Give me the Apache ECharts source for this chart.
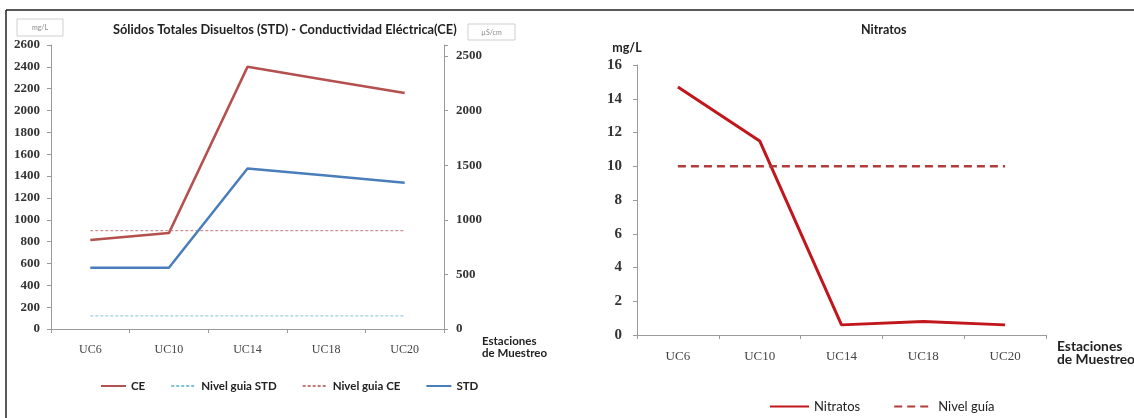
<!DOCTYPE html>
<html>
<head>
<meta charset="utf-8">
<script src="https://cdn.jsdelivr.net/npm/echarts@6/dist/echarts.min.js"></script>
<style>
html,body{margin:0;padding:0;background:#fff;}
#main{width:1134px;height:418px;}
</style>
</head>
<body>
<div id="main"></div>
<script>
// ---- data ----
const categories = ['UC6', 'UC10', 'UC14', 'UC18', 'UC20'];
const ceValues = [815, 878, 2400, 2280, 2160];
const stdValues = [560, 560, 1470, 1405, 1340];
const nivelGuiaStd = [120, 120, 120, 120, 120];
const nivelGuiaCe = [900, 900, 900, 900, 900];
const nitratosValues = [14.7, 11.5, 0.6, 0.8, 0.6];
const nivelGuiaNitratos = [10, 10, 10, 10, 10];
const leftTitle = 'Sólidos Totales Disueltos (STD) - Conductividad Eléctrica(CE)';
const rightTitle = 'Nitratos';
const xName = 'Estaciones\nde Muestreo';

const chart = echarts.init(document.getElementById('main'), null, {renderer: 'canvas'});

const serif = 'Liberation Serif';
const sans = 'Lato';
const axisGray = '#9a9a9a';

const option = {
  backgroundColor: '#fff',
  animation: false,
  title: [
    {text: leftTitle, left: 113, top: 23, padding: 0,
     textStyle: {fontFamily: sans, fontSize: 12.8, fontWeight: 'bold', color: '#222'}},
    {text: rightTitle, left: 861, top: 23, padding: 0,
     textStyle: {fontFamily: sans, fontSize: 12.5, fontWeight: 'bold', color: '#222'}}
  ],
  legend: [
    {left: 95, top: 375, itemWidth: 25, itemHeight: 12, itemGap: 25,
     itemStyle: {opacity: 0},
     data: ['CE', 'Nivel guia STD', 'Nivel guia CE', 'STD'],
     textStyle: {fontFamily: sans, fontSize: 11.5, fontWeight: 'bold', color: '#222'}},
    {left: 764, top: 395, itemWidth: 39, itemHeight: 14, itemGap: 33,
     itemStyle: {opacity: 0},
     data: ['Nitratos', 'Nivel guía'],
     textStyle: {fontFamily: sans, fontSize: 13, color: '#222'}}
  ],
  grid: [
    {left: 51, right: 690, top: 45, bottom: 89, outerBoundsMode: 'none', containLabel: false},
    {left: 637, right: 88, top: 65, bottom: 83, outerBoundsMode: 'none', containLabel: false}
  ],
  xAxis: [
    {type: 'category', gridIndex: 0, data: categories, boundaryGap: true,
     axisLine: {lineStyle: {color: axisGray}},
     axisTick: {show: true, length: 4, lineStyle: {color: axisGray}},
     axisLabel: {fontFamily: serif, fontSize: 12, color: '#444', margin: 15},
     name: xName, nameLocation: 'end', nameGap: 38,
     nameTextStyle: {fontFamily: sans, fontSize: 11.5, fontWeight: 'bold', color: '#222',
                     align: 'left', verticalAlign: 'top', lineHeight: 12, padding: [6, 0, 0, 0]}},
    {type: 'category', gridIndex: 1, data: categories, boundaryGap: true,
     axisLine: {lineStyle: {color: axisGray}},
     axisTick: {show: true, length: 4, lineStyle: {color: axisGray}},
     axisLabel: {fontFamily: serif, fontSize: 13, color: '#444', margin: 15},
     name: xName, nameLocation: 'end', nameGap: 11,
     nameTextStyle: {fontFamily: sans, fontSize: 13.8, fontWeight: 'bold', color: '#222',
                     align: 'left', verticalAlign: 'top', lineHeight: 13, padding: [5, 0, 0, 0]}}
  ],
  yAxis: [
    {type: 'value', gridIndex: 0, min: 0, max: 2600, interval: 200, position: 'left',
     splitLine: {show: false},
     axisLine: {show: true, lineStyle: {color: axisGray}},
     axisTick: {show: true, length: 4, lineStyle: {color: axisGray}},
     axisLabel: {fontFamily: serif, fontSize: 13, fontWeight: 'bold', color: '#333', margin: 11,
                 formatter: function (v) { return String(v); }}},
    {type: 'value', gridIndex: 0, min: 0, max: 2600, interval: 500, position: 'right',
     splitLine: {show: false},
     axisLine: {show: true, lineStyle: {color: axisGray}},
     axisTick: {show: true, length: 4, lineStyle: {color: axisGray}},
     axisLabel: {fontFamily: serif, fontSize: 13, fontWeight: 'bold', color: '#333', margin: 12,
                 formatter: function (v) { return v % 500 === 0 ? String(v) : ''; }}},
    {type: 'value', gridIndex: 1, min: 0, max: 16, interval: 2,
     splitLine: {show: false},
     axisLine: {show: true, lineStyle: {color: axisGray}},
     axisTick: {show: true, length: 4, lineStyle: {color: axisGray}},
     axisLabel: {fontFamily: serif, fontSize: 15, fontWeight: 'bold', color: '#333', margin: 15},
     name: 'mg/L', nameLocation: 'end', nameGap: 11,
     nameTextStyle: {fontFamily: sans, fontSize: 12.5, fontWeight: 'bold', color: '#222',
                     align: 'center', padding: [0, 20, 0, 0]}}
  ],
  series: [
    {name: 'CE', type: 'line', xAxisIndex: 0, yAxisIndex: 1, data: ceValues,
     symbol: 'none', lineStyle: {color: '#B4504D', width: 2.5}, itemStyle: {color: '#B4504D'}},
    {name: 'Nivel guia STD', type: 'line', xAxisIndex: 0, yAxisIndex: 0, data: nivelGuiaStd,
     symbol: 'none', lineStyle: {color: '#7CC3D6', width: 1, type: [3, 2]}, itemStyle: {color: '#7CC3D6'}},
    {name: 'Nivel guia CE', type: 'line', xAxisIndex: 0, yAxisIndex: 1, data: nivelGuiaCe,
     symbol: 'none', lineStyle: {color: '#C07A78', width: 1, type: [3, 2]}, itemStyle: {color: '#C07A78'}},
    {name: 'STD', type: 'line', xAxisIndex: 0, yAxisIndex: 0, data: stdValues,
     symbol: 'none', lineStyle: {color: '#4A7EBB', width: 2.5}, itemStyle: {color: '#4A7EBB'}},
    {name: 'Nitratos', type: 'line', xAxisIndex: 1, yAxisIndex: 2, data: nitratosValues,
     symbol: 'none', lineStyle: {color: '#C0161C', width: 3}, itemStyle: {color: '#C0161C'}},
    {name: 'Nivel guía', type: 'line', xAxisIndex: 1, yAxisIndex: 2, data: nivelGuiaNitratos,
     symbol: 'none', lineStyle: {color: '#B03C3C', width: 2.5, type: [8, 5]}, itemStyle: {color: '#B03C3C'}}
  ],
  graphic: [
    {type: 'line', shape: {x1: 6, y1: 10, x2: 1134, y2: 10}, style: {stroke: '#222', lineWidth: 1.5}},
    {type: 'line', shape: {x1: 6, y1: 10, x2: 6, y2: 418}, style: {stroke: '#222', lineWidth: 1.5}},
    {type: 'rect', shape: {x: 17, y: 19, width: 46, height: 17}, style: {fill: 'none', stroke: '#cfcfcf', lineWidth: 1}},
    {type: 'text', x: 40, y: 27.5, style: {text: 'mg/L', fontFamily: sans, fontSize: 7, fill: '#888', align: 'center', verticalAlign: 'middle'}},
    {type: 'rect', shape: {x: 468, y: 24, width: 47, height: 16}, style: {fill: 'none', stroke: '#cfcfcf', lineWidth: 1}},
    {type: 'text', x: 491.5, y: 32.5, style: {text: 'µS/cm', fontFamily: sans, fontSize: 7, fill: '#888', align: 'center', verticalAlign: 'middle'}}
  ]
};
chart.setOption(option);
</script>
</body>
</html>
